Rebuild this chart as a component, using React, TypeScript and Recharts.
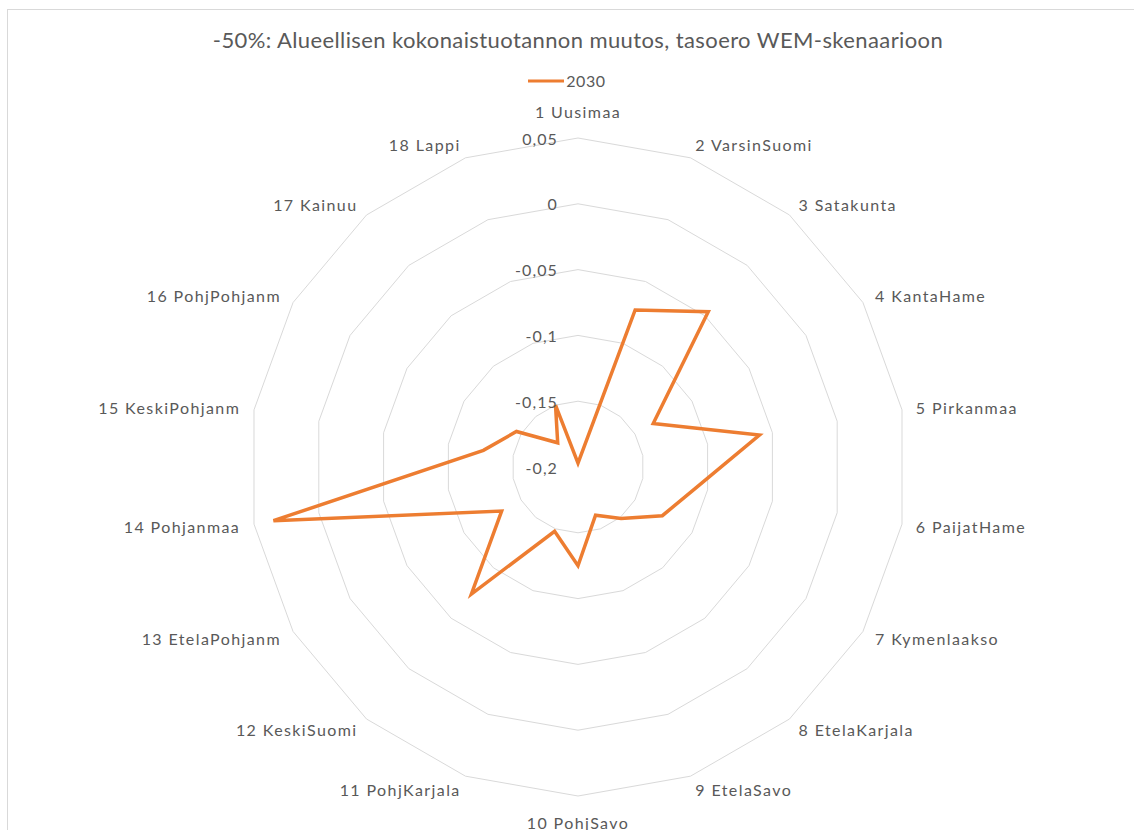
import React from "react";
import {
  RadarChart,
  Radar,
  PolarGrid,
  PolarAngleAxis,
  PolarRadiusAxis,
  Legend,
} from "recharts";

const categories = [
  "1 Uusimaa",
  "2 VarsinSuomi",
  "3 Satakunta",
  "4 KantaHame",
  "5 Pirkanmaa",
  "6 PaijatHame",
  "7 Kymenlaakso",
  "8 EtelaKarjala",
  "9 EtelaSavo",
  "10 PohjSavo",
  "11 PohjKarjala",
  "12 KeskiSuomi",
  "13 EtelaPohjanm",
  "14 Pohjanmaa",
  "15 KeskiPohjanm",
  "16 PohjPohjanm",
  "17 Kainuu",
  "18 Lappi",
];

const values2030 = [
  -0.197, -0.073, -0.046, -0.134, -0.06, -0.109, -0.126, -0.149, -0.161,
  -0.125, -0.148, -0.074, -0.133, 0.035, -0.127, -0.146, -0.176, -0.15,
];

const radiusTicks = [-0.2, -0.15, -0.1, -0.05, 0, 0.05];

const seriesName = "2030";
const title = "-50%: Alueellisen kokonaistuotannon muutos, tasoero WEM-skenaarioon";

const data = categories.map((name, i) => ({ name, value: values2030[i] }));

const CX = 578;
const CY = 467;
const OUTER = 329;
const FONT = "Lato, 'Open Sans', sans-serif";
const TEXT = "#595959";

const fmt = (v: number) => String(v).replace(".", ",");

const AngleTick = (props: any) => {
  const { payload } = props;
  const idx = categories.indexOf(payload.value);
  const a = (idx * 2 * Math.PI) / categories.length;
  const r = OUTER + 14;
  const s = Math.sin(a);
  const c = Math.cos(a);
  let x = CX + r * s;
  let y = CY - r * c;
  let anchor: "start" | "end" | "middle" = "middle";
  if (Math.abs(s) < 0.01) {
    y += c > 0 ? -13 : 12;
  } else {
    anchor = s > 0 ? "start" : "end";
  }
  return (
    <text
      x={x}
      y={y}
      textAnchor={anchor}
      dominantBaseline="central"
      fill={TEXT}
      fontSize={16}
      letterSpacing={1.4}
      fontFamily={FONT}
    >
      {payload.value}
    </text>
  );
};

const RadiusTick = (props: any) => {
  const { x, y, payload } = props;
  return (
    <text
      x={x - 20}
      y={y}
      textAnchor="end"
      dominantBaseline="central"
      fill={TEXT}
      fontSize={16}
      letterSpacing={1.1}
      fontFamily={FONT}
    >
      {fmt(payload.value)}
    </text>
  );
};

const LegendContent = () => (
  <div
    style={{
      display: "flex",
      alignItems: "center",
      justifyContent: "center",
      fontFamily: FONT,
      fontSize: 16,
      letterSpacing: 0.6,
      color: TEXT,
    }}
  >
    <svg width={36} height={6} style={{ marginRight: 2 }}>
      <line x1={0} y1={3} x2={36} y2={3} stroke="#ED7D31" strokeWidth={3} />
    </svg>
    <span>{seriesName}</span>
  </div>
);

export default function App() {
  return (
    <div
      style={{
        position: "absolute",
        left: 0,
        top: 0,
        width: 1134,
        height: 830,
        background: "#fff",
        overflow: "hidden",
      }}
    >
      <div
        style={{
          position: "absolute",
          left: 7,
          top: 9,
          width: 1127,
          height: 821,
          borderTop: "1.5px solid #d9d9d9",
          borderLeft: "1.5px solid #d9d9d9",
        }}
      />
      <div
        style={{
          position: "absolute",
          left: 0,
          top: 27,
          width: 1156,
          textAlign: "center",
          fontFamily: FONT,
          fontSize: 22,
          letterSpacing: 0.4,
          color: TEXT,
          lineHeight: "26px",
          whiteSpace: "nowrap",
        }}
      >
        {title}
      </div>
      <div style={{ position: "absolute", left: 0, top: 0 }}>
        <RadarChart
          width={1134}
          height={830}
          data={data}
          cx={CX}
          cy={CY}
          outerRadius={OUTER}
          startAngle={90}
          endAngle={-270}
          margin={{ top: 0, right: 0, bottom: 0, left: 0 }}
        >
          <PolarGrid gridType="polygon" radialLines={false} stroke="#d9d9d9" strokeWidth={1} />
          <PolarAngleAxis
            dataKey="name"
            tick={<AngleTick />}
            tickLine={false}
            axisLine={false}
          />
          <PolarRadiusAxis
            angle={90}
            domain={[-0.2, 0.05]}
            ticks={radiusTicks}
            tickCount={6}
            axisLine={false}
            tickLine={false}
            tick={<RadiusTick />}
          />
          <Radar
            name={seriesName}
            dataKey="value"
            stroke="#ED7D31"
            strokeWidth={3.5}
            strokeLinejoin="miter"
            fill="none"
            fillOpacity={0}
            dot={false}
            isAnimationActive={false}
          />
          <Legend
            verticalAlign="top"
            content={<LegendContent />}
            wrapperStyle={{ position: "absolute", top: 71, left: 0, width: 1134 }}
          />
        </RadarChart>
      </div>
    </div>
  );
}
